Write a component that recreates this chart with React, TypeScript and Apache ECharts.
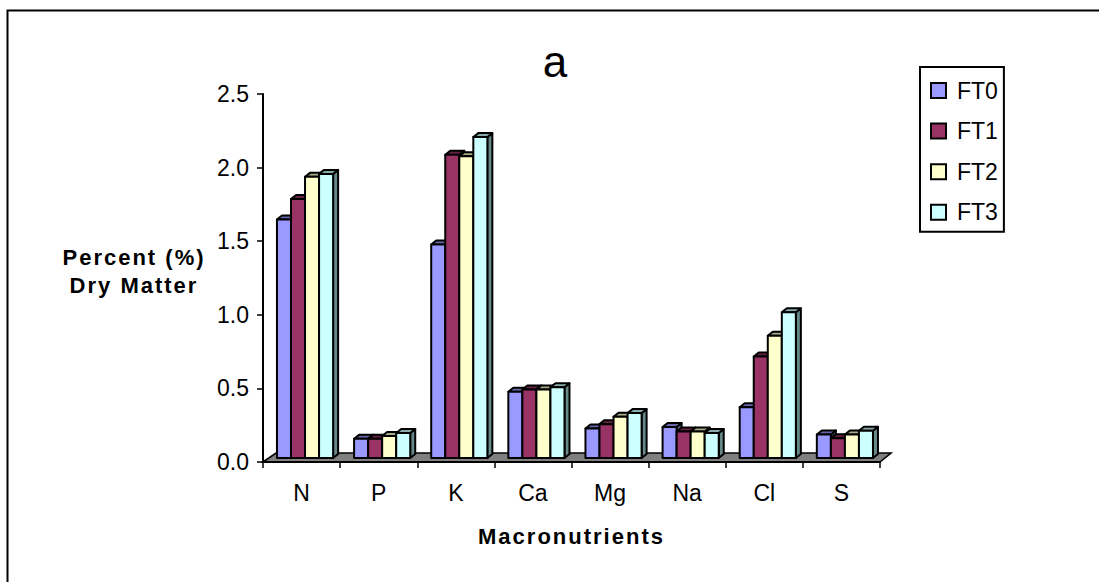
import React, { useEffect, useRef } from "react";
import * as echarts from "echarts";

const categories = ["N", "P", "K", "Ca", "Mg", "Na", "Cl", "S"];
const FT0 = [1.62, 0.13, 1.45, 0.45, 0.2, 0.21, 0.345, 0.16];
const FT1 = [1.76, 0.13, 2.06, 0.465, 0.23, 0.18, 0.69, 0.135];
const FT2 = [1.91, 0.15, 2.05, 0.465, 0.28, 0.18, 0.83, 0.16];
const FT3 = [1.93, 0.17, 2.18, 0.48, 0.305, 0.17, 0.99, 0.185];
const seriesNames = ["FT0", "FT1", "FT2", "FT3"];
const seriesValues = [FT0, FT1, FT2, FT3];
const frontColors = ["#9999FF", "#993366", "#FFFFCC", "#CCFFFF"];
const topColors = ["#6666AA", "#662244", "#AAAA88", "#88AAAA"];
const sideColors = ["#666699", "#551A3A", "#88886A", "#668888"];

const FONT = "Liberation Sans, Arial, sans-serif";

const barRenderer = (seriesIndex: number) => (params: any, api: any) => {
  const cat = api.value(0);
  const val = api.value(1);
  const band = api.size([1, 0])[0];
  const barW = band * 0.182;
  const center = api.coord([cat, 0])[0] + band * 0.045;
  const base = api.coord([cat, 0])[1] - 4;
  const top = api.coord([cat, val])[1] - 4;
  const x = center - 2 * barW + seriesIndex * barW;
  const dx = 5;
  const dy = 4;
  const stroke = { stroke: "#000", lineWidth: 2, lineJoin: "round" };
  return {
    type: "group",
    children: [
      {
        type: "polygon",
        shape: { points: [[x + barW, top], [x + barW + dx, top - dy], [x + barW + dx, base - dy], [x + barW, base]] },
        style: { fill: sideColors[seriesIndex], ...stroke },
      },
      {
        type: "polygon",
        shape: { points: [[x, top], [x + dx, top - dy], [x + barW + dx, top - dy], [x + barW, top]] },
        style: { fill: topColors[seriesIndex], ...stroke },
      },
      {
        type: "rect",
        shape: { x, y: top, width: barW, height: base - top },
        style: { fill: frontColors[seriesIndex], ...stroke },
      },
    ],
  };
};

const floorRenderer = (params: any, api: any) => {
  const c = params.coordSys;
  const yb = c.y + c.height;
  return {
    type: "polygon",
    shape: { points: [[c.x, yb], [c.x + 13, yb - 9], [c.x + c.width + 11, yb - 9], [c.x + c.width, yb]] },
    style: { fill: "#808080", stroke: "#000", lineWidth: 1.6 },
  };
};

export default function App() {
  const ref = useRef<HTMLDivElement>(null);
  useEffect(() => {
    const chart = echarts.init(ref.current!, undefined, { renderer: "svg" });
    chart.setOption({
      animation: false,
      backgroundColor: "#fff",
      title: [
        {
          text: "a",
          left: 550,
          top: 34,
          textAlign: "center",
          textStyle: { fontFamily: FONT, fontSize: 44, fontWeight: "normal", color: "#000" },
        },
        {
          text: "Percent (%)\nDry Matter",
          left: 129,
          top: 238,
          textAlign: "center",
          textStyle: { fontFamily: FONT, fontSize: 22, fontWeight: "bold", color: "#000", lineHeight: 28 },
        },
      ],
      legend: {
        data: seriesNames,
        orient: "vertical",
        left: 920,
        top: 67,
        padding: [12, 6, 8, 10],
        itemWidth: 15,
        itemHeight: 15,
        itemGap: 17.6,
        borderColor: "#000",
        borderWidth: 2,
        icon: "rect",
        selectedMode: false,
        textStyle: { fontFamily: FONT, fontSize: 23, color: "#000", padding: [0, 0, 0, 6] },
      },
      grid: { left: 263, top: 94, width: 617, height: 368, containLabel: false },
      xAxis: {
        type: "category",
        data: categories,
        z: 3,
        axisLine: { lineStyle: { color: "#000", width: 2 } },
        axisTick: { show: true, alignWithLabel: false, length: 6, lineStyle: { color: "#000", width: 1.5 } },
        axisLabel: { fontFamily: FONT, fontSize: 23, color: "#000", margin: 19 },
        name: "Macronutrients",
        nameLocation: "middle",
        nameGap: 63,
        nameTextStyle: { fontFamily: FONT, fontSize: 22, fontWeight: "bold", color: "#000" },
      },
      yAxis: {
        type: "value",
        min: 0,
        max: 2.5,
        interval: 0.5,
        splitLine: { show: false },
        axisLine: { show: true, lineStyle: { color: "#000", width: 2 } },
        axisTick: { show: true, length: 6, lineStyle: { color: "#000", width: 1.5 } },
        axisLabel: { fontFamily: FONT, fontSize: 23, color: "#000", margin: 14, formatter: (v: number) => v.toFixed(1) },
      },
      graphic: [
        {
          type: "polyline",
          shape: { points: [[7.5, 1200], [7.5, 10.5], [2000, 10.5]] },
          style: { stroke: "#000", lineWidth: 2, fill: "none" },
          silent: true,
        },
      ],
      series: [
        {
          type: "custom",
          name: "floor",
          data: [[0, 0]],
          renderItem: floorRenderer,
          silent: true,
          z: 1,
        },
        ...seriesNames.map((name, s) => ({
          type: "custom",
          name,
          itemStyle: { color: frontColors[s], borderColor: "#000", borderWidth: 2 },
          data: seriesValues[s].map((v, i) => [i, v]),
          renderItem: barRenderer(s),
          encode: { x: 0, y: 1 },
          silent: true,
          z: 2 + s,
        })),
      ],
    });
    const spaced = ["Percent (%)", "Dry Matter", "Macronutrients"];
    ref.current!.querySelectorAll("text").forEach((t) => {
      if (spaced.includes((t.textContent || "").trim())) t.style.letterSpacing = "2px";
    });
    return () => chart.dispose();
  }, []);
  return <div ref={ref} style={{ position: "fixed", left: 0, top: 0, width: 1099, height: 582 }} />;
}
